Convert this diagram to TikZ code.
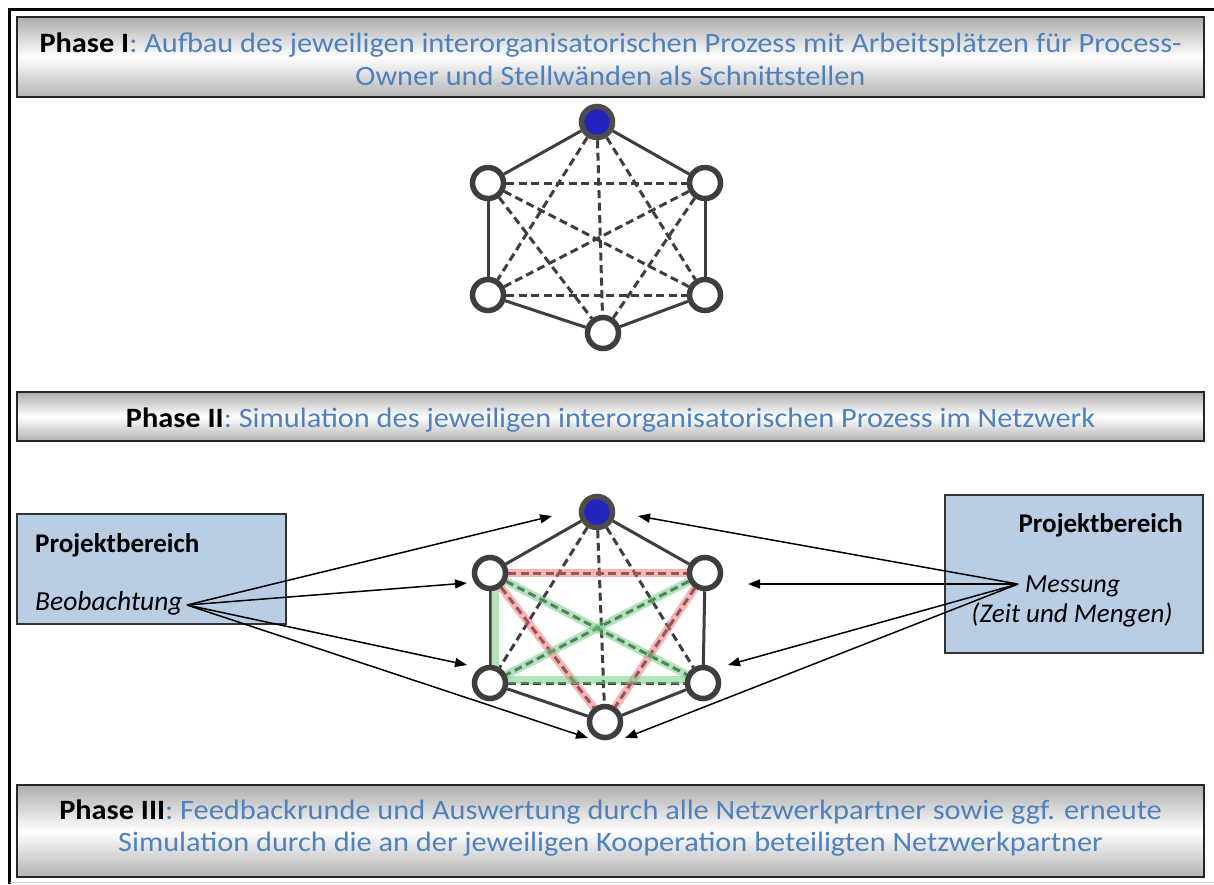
\documentclass[tikz,border=0pt]{standalone}
\usepackage{fontspec}
\usepackage{graphicx}
\setmainfont{Carlito}
\usetikzlibrary{arrows.meta}
\definecolor{phaseblue}{RGB}{79,129,189}
\definecolor{boxblue}{RGB}{185,205,229}
\definecolor{nodeblue}{RGB}{35,35,190}
\definecolor{edgegray}{RGB}{62,62,62}
\definecolor{hlred}{RGB}{238,110,110}
\definecolor{hlgreen}{RGB}{105,200,125}
\pgfdeclarelayer{back}
\pgfdeclarelayer{bg}
\pgfsetlayers{back,bg,main}
\newcommand{\phasefont}{\fontsize{28}{32}\selectfont}
\newsavebox\refline
\newlength\reflinew
\begin{document}
\sbox\refline{\phasefont\textbf{Phase I}: Aufbau des jeweiligen interorganisatorischen Prozess mit Arbeitsplätzen für Process-}
\setlength\reflinew{\wd\refline}
\pgfmathsetmacro\hscale{1142/\reflinew}
\begin{tikzpicture}[x=1pt,y=-1pt,
  banner/.style={draw=black!85, line width=1.8pt, top color=gray!65, bottom color=gray!60, middle color=white, minimum width=1187pt, inner sep=0pt},
  phasetext/.style={anchor=base, inner sep=0pt, font=\phasefont},
  pbox/.style={draw=black!80, line width=1.4pt, fill=boxblue, inner sep=0pt},
  boxtext/.style={inner sep=0pt},
  vtx/.style={circle, draw=edgegray, line width=5.5pt, fill=white, minimum size=31pt, inner sep=0pt},
  hub/.style={vtx, fill=nodeblue, draw=black!70},
  solidedge/.style={draw=edgegray, line width=3pt},
  dashedge/.style={draw=edgegray, line width=3pt, dash pattern=on 8pt off 4.5pt},
  hlr/.style={draw=hlred, line width=8pt, opacity=0.5, line cap=round},
  hlg/.style={draw=hlgreen, line width=8pt, opacity=0.5, line cap=round},
  arr/.style={-{Triangle[length=12pt,width=9pt]}, line width=1.5pt, draw=black}
]
\useasboundingbox (0,0) rectangle (1214,884);
\begin{pgfonlayer}{back}
  \fill[white] (0,0) rectangle (1214,884);
\end{pgfonlayer}

% outer frame (top and left edges only)
\draw[line width=3pt] (9.5,884) -- (9.5,9.5) -- (1214,9.5);
\draw[gray!35, line width=1pt] (9.5,882.5) -- (1214,882.5);

% phase banners
\node[banner, minimum height=80pt] (ph1) at (610.5,57) {};
\node[banner, minimum height=49pt] (ph2) at (610.5,416.5) {};
\node[banner, minimum height=92pt] (ph3) at (610.5,831) {};

\node[phasetext] (ph1a) at (610.5,52) {\scalebox{\hscale}[1]{\textbf{Phase I}\textcolor{phaseblue}{: Aufbau des jeweiligen interorganisatorischen Prozess mit Arbeitsplätzen für Process-}}};
\node[phasetext] (ph1b) at (610.5,85) {\scalebox{\hscale}[1]{\textcolor{phaseblue}{Owner und Stellwänden als Schnittstellen}}};
\node[phasetext] (ph2a) at (610.5,427) {\scalebox{\hscale}[1]{\textbf{Phase II}\textcolor{phaseblue}{: Simulation des jeweiligen interorganisatorischen Prozess im Netzwerk}}};
\node[phasetext] (ph3a) at (610.5,819) {\scalebox{\hscale}[1]{\textbf{Phase III}\textcolor{phaseblue}{: Feedbackrunde und Auswertung durch alle Netzwerkpartner sowie ggf. erneute}}};
\node[phasetext] (ph3b) at (610.5,851) {\scalebox{\hscale}[1]{\textcolor{phaseblue}{Simulation durch die an der jeweiligen Kooperation beteiligten Netzwerkpartner}}};

% network of phase I
\node[hub] (a1) at (597,122) {};
\node[vtx] (b1) at (488,183) {};
\node[vtx] (c1) at (705,183) {};
\node[vtx] (d1) at (488,295) {};
\node[vtx] (e1) at (705,295) {};
\node[vtx] (f1) at (603,333) {};

% network of phase II
\node[hub] (a2) at (597,512) {};
\node[vtx] (b2) at (490,573) {};
\node[vtx] (c2) at (705,573) {};
\node[vtx] (d2) at (490,683) {};
\node[vtx] (e2) at (703,683) {};
\node[vtx] (f2) at (605,722) {};

\begin{pgfonlayer}{bg}
  \foreach \g in {1,2} {
    \foreach \u/\v in {a/b,a/c,b/d,c/e,d/f,e/f}
      \draw[solidedge] (\u\g) -- (\v\g);
    \foreach \u/\v in {a/d,a/e,a/f,b/c,b/e,b/f,c/d,c/f,d/e}
      \draw[dashedge] (\u\g) -- (\v\g);
  }
  % highlighted interfaces during the simulation
  \foreach \u/\v in {b2/c2,b2/f2,c2/f2}
    \draw[hlr] (\u) -- (\v);
  \draw[hlg] ([xshift=5pt]b2.south) -- ([xshift=5pt]d2.north);
  \draw[hlg] ([yshift=3pt]d2.east) -- ([yshift=3pt]e2.west);
  \foreach \u/\v in {b2/e2,c2/d2}
    \draw[hlg] (\u) -- (\v);
\end{pgfonlayer}

% project areas
\node[pbox, minimum width=269pt, minimum height=110pt] (left) at (151.5,569) {};
\node[boxtext, anchor=base west, font=\fontsize{27}{31}\selectfont\bfseries] (lt) at (35,552) {Projektbereich};
\node[boxtext, anchor=base west, font=\fontsize{27.5}{31}\selectfont\itshape] (obs) at (35,610) {Beobachtung};

\node[pbox, minimum width=258pt, minimum height=158pt] (right) at (1074,574) {};
\node[boxtext, anchor=base east, font=\fontsize{27}{31}\selectfont\bfseries] (rt) at (1183,532) {Projektbereich};
\node[boxtext, anchor=base west, font=\fontsize{26}{31}\selectfont\itshape] (mes) at (1025,592) {Messung};
\node[boxtext, anchor=base, font=\fontsize{27}{31}\selectfont\itshape] (mes2) at (1072,622) {(Zeit und Mengen)};

% arrow sources and targets
\coordinate (os) at (187,605);
\coordinate (ms) at (1018,584);
\coordinate (ta) at (552,516);
\coordinate (tb) at (467,583);
\coordinate (td) at (467,665);
\coordinate (tf) at (588,738);
\coordinate (ua) at (638,516);
\coordinate (uc) at (748,584);
\coordinate (ue) at (728,665);
\coordinate (uf) at (625,738);

\foreach \t in {ta,tb,td,tf}
  \draw[arr] (os) -- (\t);
\foreach \t in {ua,uc,ue,uf}
  \draw[arr] (ms) -- (\t);
\end{tikzpicture}
\end{document}
